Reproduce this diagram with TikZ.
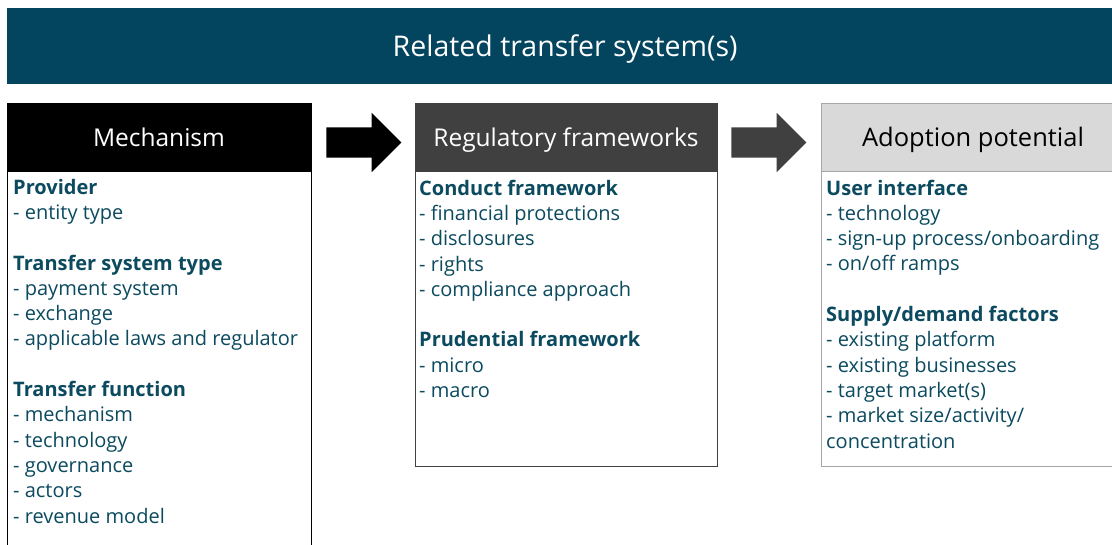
\documentclass[tikz,border=0pt]{standalone}
\usepackage{fontspec}
\setmainfont{Open Sans}
\usetikzlibrary{positioning,calc,shapes.arrows}

\definecolor{headteal}{HTML}{03445E}
\definecolor{textteal}{HTML}{0B4A5F}
\definecolor{darkgrey}{HTML}{404040}
\definecolor{lightgrey}{HTML}{D9D9D9}
\definecolor{midgrey}{HTML}{A6A6A6}

\tikzset{
  titlebox/.style={draw, minimum width=304pt, minimum height=68pt, inner sep=0pt, text height=18.6pt, text depth=0pt, font=\fontsize{24.5}{28}\selectfont},
  bodybox/.style={draw, fill=white, minimum width=304pt, inner sep=0pt},
  bodytext/.style={align=left, inner sep=0pt, text=textteal, font=\fontsize{20}{25.3}\selectfont},
  blockarrow/.style={single arrow, anchor=tail, minimum height=75pt, inner xsep=0pt, inner ysep=15pt, single arrow head extend=14.5pt}
}

\begin{document}
\begin{tikzpicture}[x=1pt, y=-1pt]
\useasboundingbox (0,0) rectangle (1112,544);
\clip (0,0) rectangle (1112,544);

% banner
\node[fill=headteal, text=white, minimum width=1116pt, minimum height=76pt, inner sep=0pt, text height=21pt, text depth=0pt, anchor=north west, font=\fontsize{28.5}{32}\selectfont] (head) at (7,8) {Related transfer system(s)};

% column titles
\node[titlebox, draw=black, fill=black, text=white] (mech) at (159,137) {Mechanism};
\node[titlebox, draw=darkgrey, fill=darkgrey, text=white, minimum width=302pt] (reg) at (566,137) {Regulatory frameworks};
\node[titlebox, draw=midgrey, fill=lightgrey, text=black, font=\fontsize{25.5}{29}\selectfont] (adopt) at (973,137) {Adoption potential};

% column bodies
\node[bodybox, draw=black, minimum height=400pt, below=0pt of mech] (mechbody) {};
\node[bodybox, draw=darkgrey, minimum width=302pt, minimum height=295pt, below=0pt of reg] (regbody) {};
\node[bodybox, draw=midgrey, minimum height=295pt, below=0pt of adopt] (adoptbody) {};

% block arrows
\node[blockarrow, fill=black] (arrA) at ($(mech.east)+(15,5.5)$) {};
\node[blockarrow, fill=darkgrey] (arrB) at ($(reg.east)+(14,5.5)$) {};

% texts (base = last line)
\node[bodytext, anchor=base west] (mechtext) at (13,523) {\textbf{Provider}\\
- entity type\\[25.3pt]
\textbf{Transfer system type}\\
- payment system\\
- exchange\\
- applicable laws and regulator\\[25.3pt]
\textbf{Transfer function}\\
- mechanism\\
- technology\\
- governance\\
- actors\\
- revenue model};

\node[bodytext, anchor=base west] (regtext) at (419,397.5) {\textbf{Conduct framework}\\
- financial protections\\
- disclosures\\
- rights\\
- compliance approach\\[25.3pt]
\textbf{Prudential framework}\\
- micro\\
- macro};

\node[bodytext, anchor=base west] (adopttext) at (826,448) {\textbf{User interface}\\
- technology\\
- sign-up process/onboarding\\
- on/off ramps\\[25.3pt]
\textbf{Supply/demand factors}\\
- existing platform\\
- existing businesses\\
- target market(s)\\
- market size/activity/\\
concentration};
\end{tikzpicture}
\end{document}
